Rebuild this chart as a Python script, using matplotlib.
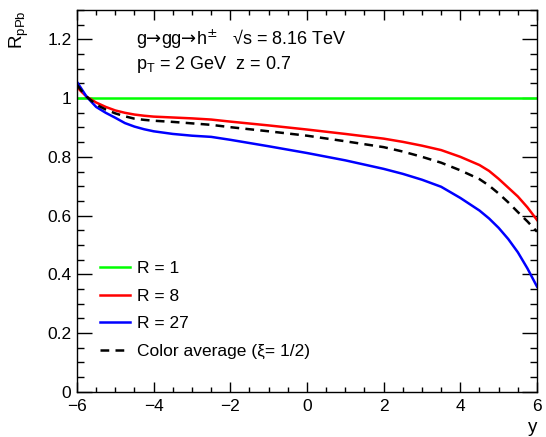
import numpy as np
import matplotlib
matplotlib.use("Agg")
import matplotlib.pyplot as plt
from matplotlib.ticker import MultipleLocator

plt.rcParams['font.family'] = ['Liberation Sans', 'DejaVu Sans']

y = [-6, -5.9, -5.75, -5.5, -5.25, -5, -4.75, -4.5, -4.25, -4, -3.5, -3, -2.5, -2, -1, 0,
     1, 2, 2.5, 3, 3.5, 4, 4.5, 4.75, 5, 5.25, 5.5, 5.75, 6]
r_1 = [1.0] * len(y)
r_8 = [1.038, 1.024, 1.005, 0.985, 0.970, 0.958, 0.950, 0.944, 0.940, 0.937, 0.934, 0.931,
       0.927, 0.920, 0.907, 0.893, 0.878, 0.862, 0.851, 0.838, 0.823, 0.800, 0.772, 0.752,
       0.725, 0.695, 0.665, 0.628, 0.585]
r_27 = [1.055, 1.035, 1.005, 0.970, 0.950, 0.933, 0.915, 0.903, 0.894, 0.887, 0.878, 0.872,
        0.868, 0.858, 0.836, 0.813, 0.788, 0.759, 0.742, 0.722, 0.698, 0.660, 0.617, 0.590,
        0.558, 0.520, 0.475, 0.420, 0.358]
r_avg = [1.045, 1.028, 1.005, 0.978, 0.961, 0.948, 0.938, 0.930, 0.926, 0.923, 0.919, 0.914,
         0.909, 0.901, 0.887, 0.872, 0.853, 0.833, 0.818, 0.800, 0.780, 0.754, 0.724, 0.702,
         0.675, 0.645, 0.612, 0.580, 0.545]

fig = plt.figure(figsize=(5.46, 4.37), dpi=100)
ax = fig.add_axes([0.141, 0.1037, 0.8425, 0.8733])

ax.plot(y, r_1, color='#00ff00', lw=1.8, label='R = 1')
ax.plot(y, r_8, color='#ff0000', lw=1.8, label='R = 8')
ax.plot(y, r_27, color='#0000ff', lw=1.8, label='R = 27')
ax.plot(y, r_avg, color='black', lw=1.8, ls=(0, (3.5, 2.5)), label='Color average (\u03be= 1/2)')

ax.set_xlim(-6, 6)
ax.set_ylim(0, 1.3)
ax.xaxis.set_major_locator(MultipleLocator(2))
ax.xaxis.set_minor_locator(MultipleLocator(0.5))
ax.yaxis.set_major_locator(MultipleLocator(0.2))
ax.yaxis.set_minor_locator(MultipleLocator(0.05))
ax.yaxis.set_major_formatter(plt.FuncFormatter(lambda v, p: '%g' % round(v, 2)))

ax.tick_params(which='both', direction='in', top=True, right=True, labelsize=12.5, width=1.0)
ax.tick_params(axis='x', which='major', length=7.5, pad=5)
ax.tick_params(axis='x', which='minor', length=3.7)
ax.tick_params(axis='y', which='major', length=10.5, pad=4)
ax.tick_params(axis='y', which='minor', length=5.2)
for s in ax.spines.values():
    s.set_linewidth(1.0)

# first label line, arrows taken from DejaVu (wider, like the ROOT symbol font)
pieces = [('g', None), ('\u2192', 'DejaVu Sans'), ('gg', None), ('\u2192', 'DejaVu Sans'),
          ('h$^{\\pm}$   \u221As = 8.16 TeV', None)]
prev = ax.text(0.128, 0.927, '', transform=ax.transAxes, fontsize=13, va='baseline')
first = True
for s, fam in pieces:
    kw = {} if fam is None else {'family': fam}
    if first:
        prev = ax.text(0.128, 0.91, s, transform=ax.transAxes, fontsize=13, va='baseline', **kw)
        first = False
    else:
        prev = ax.annotate(s, xy=(1, 0.91), xycoords=(prev, 'axes fraction'), fontsize=13,
                           va='baseline', ha='left', **kw)
ax.text(0.128, 0.858, 'p$_{\\mathregular{T}}$ = 2 GeV  z = 0.7', transform=ax.transAxes,
        fontsize=13, va='center')

fig.text(0.035, 0.977, 'R$_{\\mathregular{pPb}}$', rotation=90, ha='center', va='top', fontsize=13.5)
fig.text(0.975, 0.003, 'y', ha='center', va='bottom', fontsize=13.5)

ax.legend(loc='lower left', bbox_to_anchor=(0.034, 0.067), frameon=False, fontsize=12.5,
          handlelength=1.75, handletextpad=0.4, labelspacing=0.72, borderaxespad=0)

fig.savefig('out.png', dpi=100)
